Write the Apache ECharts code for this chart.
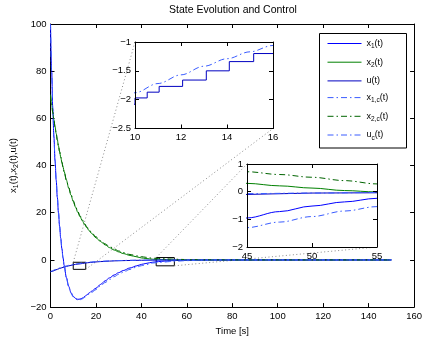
<!DOCTYPE html>
<html>
<head>
<meta charset="utf-8">
<script src="https://cdn.jsdelivr.net/npm/echarts@6/dist/echarts.min.js"></script>
<style>html,body{margin:0;padding:0;background:#fff}#c{width:425px;height:341px}</style>
</head>
<body>
<div id="c"></div>
<script>
// ---------- data ----------
const T = [0,0.5,1,1.5,2,2.5,3,3.5,4,4.5,5,5.5,6,7,8,9,10,11,12,13,14,15,16,17,18,20,22,24,26,28,30,32,35,38,40,42,45,47.5,50,52.5,55,60,65,70,80,90,100,120,150];
const x1 = [100,80,64,52,42,33.8,26.5,20,14.2,9.2,4.8,1.0,-2.3,-7.5,-11.2,-13.8,-15.4,-16.3,-16.7,-16.6,-16.2,-15.5,-14.8,-14.0,-13.3,-12.0,-10.4,-8.9,-7.6,-6.4,-5.4,-4.5,-3.4,-2.5,-1.9,-1.5,-0.95,-0.72,-0.52,-0.37,-0.24,-0.11,-0.05,-0.02,-0.01,0,0,0,0];
const x1c = [100,80.2,64.3,52.3,42.3,34,26.7,20.1,14.2,9.1,4.6,0.8,-2.6,-7.8,-11.5,-14.1,-15.7,-16.6,-17.0,-16.9,-16.5,-15.9,-15.2,-14.5,-13.8,-12.6,-11.1,-9.6,-8.3,-7.1,-6.1,-5.2,-4.0,-3.0,-2.45,-2.0,-1.3,-1.1,-0.9,-0.7,-0.54,-0.3,-0.16,-0.08,-0.02,0,0,0,0];
const x2 = [70,66,62.5,59.4,56.4,53.6,50.9,48.3,45.9,43.6,41.4,39.4,37.4,33.8,30.5,27.5,24.8,22.4,20.2,18.3,16.6,15.0,13.6,12.4,11.3,9.4,7.8,6.4,5.2,4.2,3.4,2.7,1.9,1.3,0.85,0.6,0.3,0.21,0.13,0.04,-0.01,-0.03,-0.03,-0.02,-0.01,0,0,0,0];
const x2c = [70,66,62.5,59.4,56.4,53.6,50.9,48.3,45.9,43.6,41.4,39.4,37.4,33.9,30.7,27.8,25.1,22.7,20.6,18.7,17.0,15.4,14.0,12.8,11.7,9.8,8.2,6.8,5.7,4.7,3.8,3.1,2.3,1.7,1.4,1.1,0.72,0.62,0.52,0.4,0.28,0.15,0.08,0.04,0.01,0,0,0,0];
const uT = [0,0.5,1,1.5,2,2.5,3,3.5,4,4.5,5,5.5,6,6.5,7,7.5,8,8.5,9,9.5,10,10.53,11.05,12.07,13.1,14.1,15.16,16.3,17.5,19,20.5,22,24,26,28,30,33,36,40,45,50,55,60,80,100,150];
const uV = [-5.0,-4.78,-4.56,-4.36,-4.17,-3.98,-3.80,-3.63,-3.47,-3.32,-3.17,-3.03,-2.90,-2.77,-2.65,-2.53,-2.42,-2.31,-2.21,-2.08,-1.97,-1.87,-1.77,-1.66,-1.50,-1.34,-1.20,-1.07,-0.95,-0.82,-0.71,-0.61,-0.50,-0.41,-0.34,-0.28,-0.21,-0.15,-0.10,-0.05,-0.04,-0.03,-0.02,-0.01,0,0];
const ucT = [0,1,2,3,4,5,6,7,8,9,10,11,12,13,14,15,16,18,20,22,25,28,30,35,40,45,50,55,60,70,80,100,150];
const ucV = [-5,-4.54,-4.12,-3.74,-3.39,-3.08,-2.79,-2.53,-2.3,-2.08,-1.88,-1.72,-1.57,-1.42,-1.29,-1.17,-1.06,-0.87,-0.72,-0.59,-0.44,-0.33,-0.28,-0.17,-0.11,-0.07,-0.05,-0.03,-0.02,-0.01,0,0,0];

const mainX = [0,160], mainXStep = 20, mainY = [-20,100], mainYStep = 20;
const in1X = [10,16], in1XStep = 2, in1Y = [-2.5,-1], in1YStep = 0.5;
const in2X = [45,55], in2XStep = 5, in2Y = [-2,1], in2YStep = 1;
const box1X = [10,15.5], box1Y = [-1,-4];
const box2X = [46.5,54.5], box2Y = [1,-2.5];

const titleText = 'State Evolution and Control';
const xName = 'Time [s]';
const seriesNames = ['x1','x2','u','x1c','x2c','uc'];
const legendLabels = {
  x1:'{a|x}{s|1}{a|(t)}', x2:'{a|x}{s|2}{a|(t)}', u:'{a|u(t)}',
  x1c:'{a|x}{s|1,c}{a|(t)}', x2c:'{a|x}{s|2,c}{a|(t)}', uc:'{a|u}{s|c}{a|(t)}'
};
const yName = '{a|x}{s|1}{a|(t),x}{s|2}{a|(t),u(t)}';

// ---------- styles ----------
const FONT = '"Liberation Sans", Arial, Helvetica, sans-serif';
const DD = [6,3,1.5,3];
const sty = {
  x1:{color:'#0000ff', type:'solid'},
  x2:{color:'#008000', type:'solid'},
  u:{color:'#0000c0', type:'solid'},
  x1c:{color:'#3a5cff', type:DD},
  x2c:{color:'#006400', type:DD},
  uc:{color:'#3a5cff', type:DD}
};
const rich = {
  a:{fontFamily:FONT, fontSize:9, color:'#000'},
  s:{fontFamily:FONT, fontSize:6.5, color:'#000', padding:[6,0,0,0]}
};
const dataFor = {
  x1: T.map((t,i)=>[t,x1[i]]),
  x2: T.map((t,i)=>[t,x2[i]]),
  u: uT.map((t,i)=>[t,uV[i]]),
  x1c: T.map((t,i)=>[t,x1c[i]]),
  x2c: T.map((t,i)=>[t,x2c[i]]),
  uc: ucT.map((t,i)=>[t,ucV[i]])
};
const minus = v => String(v).replace('-', '\u2212');

function axisPair(kind, gridIndex, range, step, z, nameOpts) {
  const base = {
    type:'value', gridIndex, min:range[0], max:range[1], interval:step, z,
    axisLine:{show:true, onZero:false, lineStyle:{color:'#000', width:1}},
    axisTick:{show:true, inside:true, length:4, lineStyle:{color:'#000'}},
    splitLine:{show:false},
  };
  const a = Object.assign({}, base, {
    position: kind==='x' ? 'bottom' : 'left',
    axisLabel:{show:true, color:'#000', fontFamily:FONT, fontSize:9.5, margin:4, formatter:minus}
  }, nameOpts || {});
  const b = Object.assign({}, base, {
    position: kind==='x' ? 'top' : 'right',
    axisLabel:{show:false}
  });
  return [a,b];
}

const grids = [
  {left:48, top:24, width:370, height:291, show:false},
  {left:135, top:42, width:138, height:86.5, show:true, backgroundColor:'#fff', borderWidth:0, z:10},
  {left:247, top:164, width:130, height:83, show:true, backgroundColor:'#fff', borderWidth:0, z:10}
];
const xAxes = [
  ...axisPair('x',0,mainX,mainXStep,1,{name:xName, nameLocation:'middle', nameGap:17, nameTextStyle:{fontFamily:FONT, fontSize:9.5, color:'#000'}}),
  ...axisPair('x',1,in1X,in1XStep,13),
  ...axisPair('x',2,in2X,in2XStep,13)
];
const yAxes = [
  ...axisPair('y',0,mainY,mainYStep,1,{name:yName, nameLocation:'middle', nameGap:30, nameTextStyle:{rich:{
    a:{fontFamily:FONT, fontSize:9.5, color:'#000'},
    s:{fontFamily:FONT, fontSize:7, color:'#000', padding:[6,0,0,0]}}}}),
  ...axisPair('y',1,in1Y,in1YStep,13),
  ...axisPair('y',2,in2Y,in2YStep,13)
];

const series = [];
[0,1,2].forEach(g => {
  seriesNames.forEach(n => {
    const s = sty[n];
    series.push({
      type:'line', name:n, xAxisIndex:g*2, yAxisIndex:g*2,
      data:dataFor[n], showSymbol:false, symbol:'none', clip:true,
      step: n==='u' ? 'end' : false,
      smooth: n==='u' ? false : 0.35, smoothMonotone:'x',
      lineStyle:{color:s.color, width:1, type:s.type},
      itemStyle:{color:s.color},
      z: g===0 ? 2 : 12, animation:false, silent:true
    });
  });
});
// zoom boxes on main plot
series.push({
  type:'line', name:'_box', xAxisIndex:0, yAxisIndex:0, data:[], symbol:'none', z:3, animation:false,
  markArea:{silent:true, itemStyle:{color:'rgba(0,0,0,0)', borderColor:'#000', borderWidth:1},
    data:[[{coord:[box1X[0],box1Y[0]]},{coord:[box1X[1],box1Y[1]]}],
          [{coord:[box2X[0],box2Y[0]]},{coord:[box2X[1],box2Y[1]]}]]}
});

const chart = echarts.init(document.getElementById('c'), null, {renderer:'canvas'});
chart.setOption({
  animation:false,
  backgroundColor:'#fff',
  title:{text:titleText, left:233, top:5, textAlign:'center', padding:0,
    textStyle:{fontFamily:FONT, fontSize:10.5, fontWeight:'normal', color:'#000'}},
  legend:{
    data:seriesNames.map(n => ({name:n, lineStyle:{color:sty[n].color, type:sty[n].type, width:1}})),
    orient:'vertical', left:327, top:39, padding:0,
    itemWidth:34, itemHeight:10, itemGap:7.7,
    itemStyle:{color:'rgba(0,0,0,0)', borderWidth:0, opacity:0},
    formatter: n => legendLabels[n], textStyle:{rich}, z:6,
    selectedMode:false
  },
  grid:grids, xAxis:xAxes, yAxis:yAxes, series
});

// connectors & legend box
const p = (g, pt) => chart.convertToPixel({gridIndex:g}, pt);
const lines = [
  [p(0,[box1X[0],box1Y[0]]), p(1,[in1X[0],in1Y[1]])],
  [p(0,[box1X[1],box1Y[1]]), p(1,[in1X[1],in1Y[0]])],
  [p(0,[box2X[0],box2Y[0]]), p(2,[in2X[0],in2Y[1]])],
  [p(0,[box2X[1],box2Y[1]]), p(2,[in2X[1],in2Y[0]])]
];
chart.setOption({
  graphic:[
    ...lines.map(l => ({type:'line', z:1, silent:true,
      shape:{x1:l[0][0], y1:l[0][1], x2:l[1][0], y2:l[1][1]},
      style:{stroke:'#8a8a8a', lineWidth:1, lineDash:[1,2.5]}})),
    {type:'rect', z:5, silent:true, shape:{x:319.5, y:33.5, width:87, height:114.5},
      style:{fill:'#fff', stroke:'#000', lineWidth:1}}
  ]
});
</script>
</body>
</html>
